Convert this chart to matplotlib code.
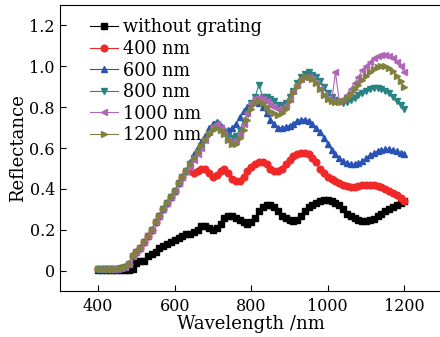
import matplotlib.pyplot as plt
from matplotlib.ticker import FuncFormatter

wavelength = list(range(400, 1201, 10))

# shared rise 400-630 nm for the grating samples
rise = [0.01, 0.01, 0.01, 0.01, 0.01, 0.01, 0.015, 0.02, 0.035, 0.07,
        0.09, 0.11, 0.14, 0.17, 0.20, 0.24, 0.27, 0.30, 0.33, 0.36,
        0.39, 0.43, 0.46, 0.49]

no_grating = [0.005, 0.005, 0.005, 0.005, 0.005, 0.005, 0.005, 0.005, 0.006, 0.01,
              0.04, 0.05, 0.05, 0.07, 0.08, 0.09, 0.11, 0.12, 0.13, 0.14,
              0.15, 0.16, 0.17, 0.18, 0.18, 0.19, 0.20, 0.22, 0.22, 0.21,
              0.20, 0.21, 0.23, 0.26, 0.27, 0.27, 0.26, 0.25, 0.24, 0.23,
              0.24, 0.26, 0.29, 0.31, 0.32, 0.32, 0.31, 0.29, 0.27, 0.26,
              0.25, 0.245, 0.25, 0.27, 0.29, 0.31, 0.32, 0.33, 0.34, 0.345,
              0.345, 0.34, 0.33, 0.32, 0.30, 0.28, 0.27, 0.26, 0.25, 0.245,
              0.245, 0.25, 0.255, 0.27, 0.28, 0.29, 0.30, 0.31, 0.32, 0.33,
              0.34]

g400 = rise + [0.49, 0.48, 0.49, 0.50, 0.50, 0.48, 0.46, 0.47, 0.49, 0.50,
               0.48, 0.45, 0.44, 0.44, 0.46, 0.49, 0.51, 0.52, 0.53, 0.53,
               0.52, 0.50, 0.49, 0.49, 0.50, 0.52, 0.54, 0.56, 0.57, 0.575,
               0.575, 0.57, 0.55, 0.53, 0.50, 0.48, 0.46, 0.45, 0.44, 0.43,
               0.42, 0.415, 0.41, 0.41, 0.415, 0.42, 0.42, 0.42, 0.42, 0.415,
               0.41, 0.40, 0.39, 0.38, 0.37, 0.355, 0.34]

g600 = rise + [0.53, 0.57, 0.60, 0.63, 0.66, 0.70, 0.72, 0.73, 0.71, 0.69,
               0.69, 0.70, 0.72, 0.75, 0.78, 0.80, 0.82, 0.83, 0.82, 0.80,
               0.77, 0.74, 0.72, 0.70, 0.70, 0.705, 0.71, 0.72, 0.735, 0.74,
               0.74, 0.735, 0.72, 0.70, 0.68, 0.65, 0.62, 0.59, 0.57, 0.55,
               0.535, 0.525, 0.52, 0.52, 0.525, 0.535, 0.55, 0.565, 0.575, 0.585,
               0.59, 0.595, 0.595, 0.59, 0.585, 0.575, 0.57]

g800 = rise + [0.52, 0.55, 0.58, 0.61, 0.64, 0.67, 0.70, 0.72, 0.70, 0.68,
               0.66, 0.65, 0.66, 0.69, 0.73, 0.77, 0.82, 0.85, 0.91, 0.85,
               0.85, 0.84, 0.83, 0.81, 0.81, 0.82, 0.85, 0.88, 0.92, 0.95,
               0.965, 0.97, 0.96, 0.95, 0.93, 0.90, 0.87, 0.85, 0.835, 0.825,
               0.82, 0.825, 0.835, 0.845, 0.86, 0.87, 0.88, 0.89, 0.895, 0.895,
               0.89, 0.88, 0.87, 0.85, 0.83, 0.81, 0.79]

g1000 = rise + [0.51, 0.54, 0.57, 0.60, 0.64, 0.68, 0.71, 0.72, 0.70, 0.67,
                0.64, 0.63, 0.64, 0.67, 0.72, 0.77, 0.82, 0.845, 0.85, 0.84,
                0.83, 0.81, 0.80, 0.79, 0.79, 0.81, 0.84, 0.88, 0.91, 0.94,
                0.95, 0.95, 0.94, 0.92, 0.89, 0.86, 0.84, 0.83, 0.97, 0.83,
                0.84, 0.86, 0.89, 0.92, 0.95, 0.98, 1.00, 1.02, 1.04, 1.05,
                1.055, 1.055, 1.05, 1.04, 1.02, 1.00, 0.97]

g1200 = rise + [0.52, 0.55, 0.58, 0.61, 0.64, 0.67, 0.69, 0.70, 0.69, 0.67,
                0.64, 0.62, 0.62, 0.65, 0.69, 0.74, 0.79, 0.82, 0.83, 0.82,
                0.80, 0.78, 0.77, 0.76, 0.77, 0.79, 0.83, 0.87, 0.90, 0.93,
                0.95, 0.95, 0.94, 0.92, 0.89, 0.86, 0.84, 0.83, 0.825, 0.825,
                0.83, 0.845, 0.865, 0.89, 0.91, 0.935, 0.955, 0.97, 0.985, 0.995,
                1.00, 1.00, 0.99, 0.975, 0.955, 0.93, 0.90]

series = [
    (no_grating, "without grating", "black", "s"),
    (g400, "400 nm", "#f02828", "o"),
    (g600, "600 nm", "#2852b4", "^"),
    (g800, "800 nm", "#2a8282", "v"),
    (g1000, "1000 nm", "#b066b8", "<"),
    (g1200, "1200 nm", "#808040", ">"),
]

plt.rcParams["font.family"] = "DejaVu Serif"
plt.rcParams["font.size"] = 11.5

fig = plt.figure(figsize=(4.4, 3.37), dpi=100)
ax = fig.add_axes([0.136, 0.136, 0.87, 0.849])

for vals, label, color, marker in series:
    ax.plot(wavelength, vals, color=color, marker=marker, markersize=4.8,
            linewidth=0.8, label=label)

ax.set_xlim(300, 1300)
ax.set_ylim(-0.1, 1.3)
ax.set_xticks([400, 600, 800, 1000, 1200])
ax.set_yticks([0, 0.2, 0.4, 0.6, 0.8, 1.0, 1.2])
ax.yaxis.set_major_formatter(FuncFormatter(lambda v, p: "0" if abs(v) < 1e-9 else f"{v:.1f}"))
ax.tick_params(direction="in", length=4, width=0.8, top=False, right=False)
ax.tick_params(axis="x", pad=5)
ax.set_xlabel("Wavelength /nm", fontsize=13, labelpad=0)
ax.set_ylabel("Reflectance", fontsize=13, labelpad=2)

ax.legend(loc="upper left", bbox_to_anchor=(0.05, 0.99), frameon=False,
          fontsize=12.7, handlelength=1.6, handletextpad=0.3,
          labelspacing=0.2, borderaxespad=0.2)

fig.savefig("out.png", dpi=100)
